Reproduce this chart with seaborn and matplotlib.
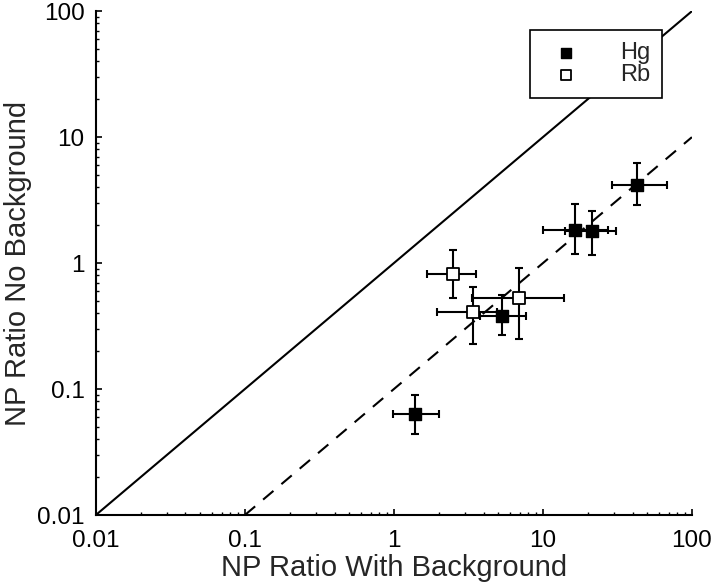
import matplotlib
matplotlib.use('Agg')
import matplotlib.pyplot as plt
import seaborn as sns
import pandas as pd

# Hg points (filled squares)
hg_x = [1.39, 5.3, 16.3, 21.4, 43.0]
hg_y = [0.063, 0.38, 1.82, 1.79, 4.14]
hg_x_lo = [0.98, 3.78, 10.0, 14.0, 28.9]
hg_x_hi = [2.0, 7.65, 27.4, 30.8, 68.3]
hg_y_lo = [0.044, 0.27, 1.18, 1.16, 2.87]
hg_y_hi = [0.089, 0.557, 2.94, 2.60, 6.18]

# Rb points (open squares)
rb_x = [2.49, 3.39, 6.93]
rb_y = [0.82, 0.41, 0.53]
rb_x_lo = [1.66, 1.95, 3.32]
rb_x_hi = [3.55, 4.89, 13.8]
rb_y_lo = [0.525, 0.23, 0.248]
rb_y_hi = [1.27, 0.65, 0.908]

# reference lines: unity and one tenth
unity_x = [0.01, 100]
unity_y = [0.01, 100]
tenth_x = [0.1, 100]
tenth_y = [0.01, 10]

ticks = [0.01, 0.1, 1, 10, 100]
tick_labels = ['0.01', '0.1', '1', '10', '100']

sns.set_style('ticks')
plt.rcParams['font.family'] = ['Liberation Sans', 'DejaVu Sans']

fig = plt.figure(figsize=(7.2, 5.88), dpi=100)
ax = fig.add_axes([0.133, 0.124, 0.828, 0.857])

sns.lineplot(x=unity_x, y=unity_y, ax=ax, color='black', linewidth=1.5, zorder=1)
sns.lineplot(x=tenth_x, y=tenth_y, ax=ax, color='black', linewidth=1.5,
             linestyle=(0, (6.5, 5)), zorder=1)

hg = pd.DataFrame({'x': hg_x, 'y': hg_y})
rb = pd.DataFrame({'x': rb_x, 'y': rb_y})

def err(vals, lo, hi):
    return [[v - l for v, l in zip(vals, lo)], [h - v for v, h in zip(vals, hi)]]

ax.errorbar(hg_x, hg_y, xerr=err(hg_x, hg_x_lo, hg_x_hi), yerr=err(hg_y, hg_y_lo, hg_y_hi),
            fmt='none', ecolor='black', elinewidth=1.5, capsize=3, capthick=1.5, zorder=2)
ax.errorbar(rb_x, rb_y, xerr=err(rb_x, rb_x_lo, rb_x_hi), yerr=err(rb_y, rb_y_lo, rb_y_hi),
            fmt='none', ecolor='black', elinewidth=1.5, capsize=3, capthick=1.5, zorder=2)

sns.scatterplot(data=hg, x='x', y='y', ax=ax, marker='s', s=70, color='black',
                edgecolor='black', linewidth=1, label='Hg', zorder=3)
sns.scatterplot(data=rb, x='x', y='y', ax=ax, marker='s', s=70, color='white',
                edgecolor='black', linewidth=1.3, label='Rb', zorder=3)

ax.set_xscale('log')
ax.set_yscale('log')
ax.set_xlim(0.01, 100)
ax.set_ylim(0.01, 100)
ax.set_xticks(ticks)
ax.set_xticklabels(tick_labels)
ax.set_yticks(ticks)
ax.set_yticklabels(tick_labels)
ax.tick_params(which='major', direction='in', length=4, width=1.2, labelsize=17.5, colors='black')
ax.tick_params(which='minor', direction='in', length=2.5, width=1, colors='black')
ax.tick_params(axis='x', which='major', pad=11)
ax.tick_params(axis='y', which='major', pad=8)
sns.despine(ax=ax)
for s in ['left', 'bottom']:
    ax.spines[s].set_linewidth(1.5)
    ax.spines[s].set_color('black')

ax.set_xlabel('NP Ratio With Background', fontsize=21, labelpad=1)
ax.set_ylabel('NP Ratio No Background', fontsize=21, labelpad=4)

leg = ax.legend(loc='upper left', bbox_to_anchor=(0.729, 0.962), borderaxespad=0,
                fontsize=17, frameon=True, fancybox=False, framealpha=1, edgecolor='black',
                handlelength=2.0, handletextpad=1.3, borderpad=0.5, labelspacing=0.0,
                markerscale=0.8)
leg.get_frame().set_linewidth(1.2)
leg.set_zorder(5)

fig.savefig('out.png', dpi=100)
